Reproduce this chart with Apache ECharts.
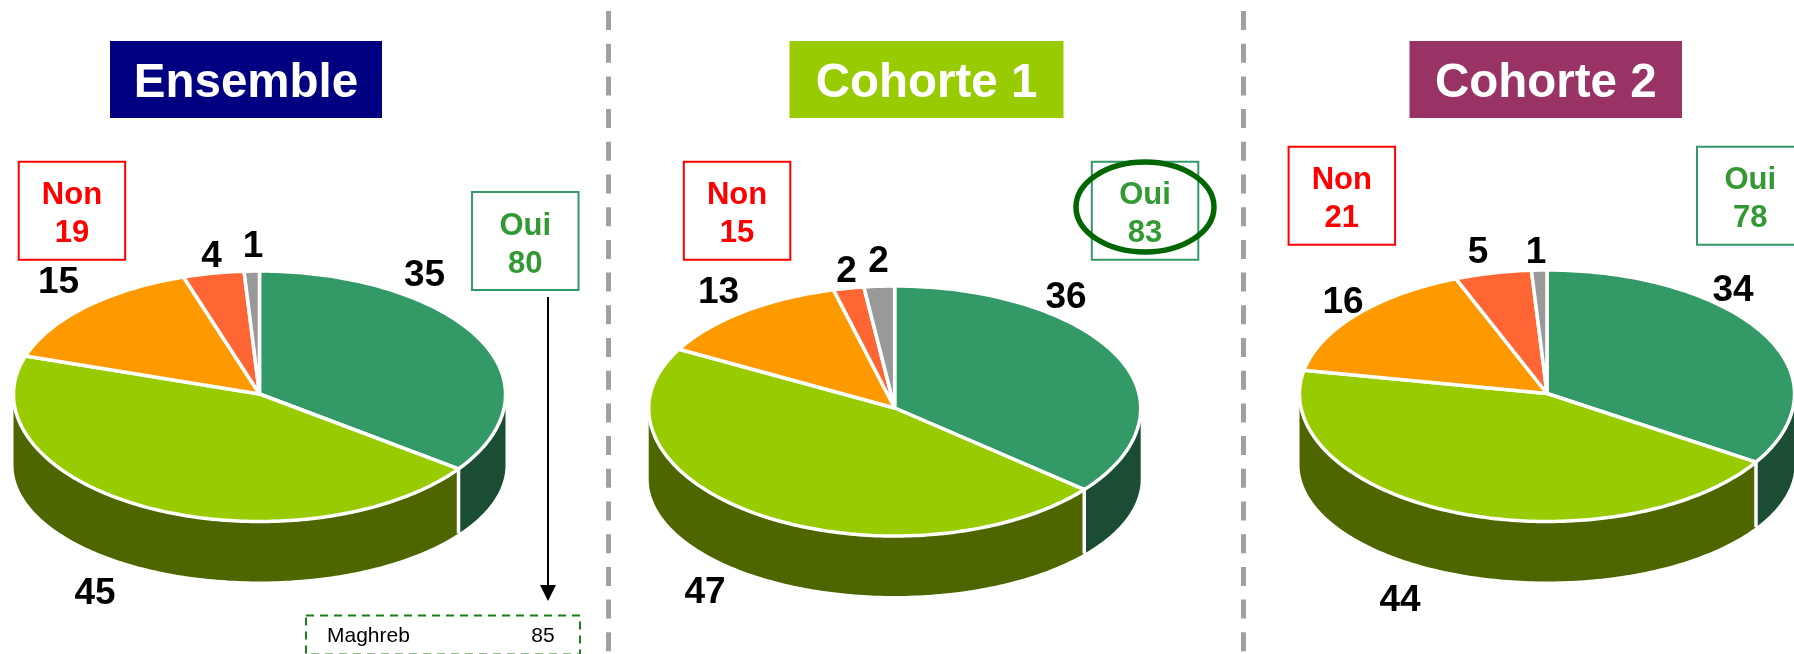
<!DOCTYPE html>
<html>
<head>
<meta charset="utf-8">
<style>html,body{margin:0;padding:0;background:#fff;overflow:hidden}#c{width:1794px;height:654px}</style>
<script src="https://cdn.jsdelivr.net/npm/echarts@6/dist/echarts.min.js"></script>
</head>
<body>
<div id="c"></div>
<script>
// ---- data ----
const categories = ['Tout à fait', 'Plutôt oui', 'Plutôt non', 'Pas du tout', 'NSP'];
const panelTitles = ['Ensemble', 'Cohorte 1', 'Cohorte 2'];
const ensembleValues = [35, 45, 15, 4, 1];
const cohorte1Values = [36, 47, 13, 2, 2];
const cohorte2Values = [34, 44, 16, 5, 1];
const nonTotals = [19, 15, 21];
const ouiTotals = [80, 83, 78];
const maghrebLabel = 'Maghreb';
const maghrebValue = 85;

// ---- appearance and layout ----
const FONT = '"Liberation Sans", Arial, sans-serif';
const topColors = ['#339966', '#99CC00', '#FF9900', '#FF6633', '#999999'];
const wallColors = ['#1A4D33', '#4D6600', '#7F4C00', '#7F3319', '#4D4D4D'];
const titleColors = ['#000080', '#99CC00', '#993366'];
const pieLayouts = [
  {cx: 259.5, cy: 394, rx: 246, ryBack: 123, ryFront: 127.5, wallDrop: 71, wallRy: 116.5,
   labels: [[424.5, 276], [95, 594], [58.5, 283], [211.6, 257], [253, 247]]},
  {cx: 894.7, cy: 408, rx: 246, ryBack: 122, ryFront: 128, wallDrop: 71, wallRy: 117,
   labels: [[1066, 298], [705, 593], [718.5, 292.5], [846.6, 272], [878.6, 261.5]]},
  {cx: 1547, cy: 393.5, rx: 247.5, ryBack: 123.5, ryFront: 128, wallDrop: 71, wallRy: 117,
   labels: [[1733, 291], [1400, 601], [1343, 303], [1478, 252.4], [1536, 252.4]]}
];
const panelLayouts = [
  {title: [110, 41, 272, 77], non: [18.7, 161.7], oui: [472, 192]},
  {title: [789.5, 41, 274, 77], non: [683.8, 161.7], oui: [1091.8, 161.7]},
  {title: [1409.5, 41, 272.5, 77], non: [1288.6, 146.7], oui: [1697, 146.7]}
];

function pointAt(p, deg) {
  const t = deg * Math.PI / 180, c = Math.cos(t);
  return [p.cx + p.rx * Math.sin(t), p.cy - c * (c > 0 ? p.ryBack : p.ryFront)];
}
function wallBottomAt(p, deg) {
  const t = deg * Math.PI / 180;
  return [p.cx + p.rx * Math.sin(t), p.cy + p.wallDrop - Math.cos(t) * p.wallRy];
}
function spans(values) {
  const total = values.reduce((a, b) => a + b, 0);
  let acc = 0;
  return values.map(v => { const s = acc; acc += v; return [s / total * 360, acc / total * 360]; });
}
function arcPoints(fn, p, a, b) {
  const n = Math.max(2, Math.ceil(Math.abs(b - a)));
  const pts = [];
  for (let i = 0; i <= n; i++) pts.push(fn(p, a + (b - a) * i / n));
  return pts;
}

function wallSeries(values, p) {
  const sp = spans(values);
  return {
    type: 'custom', coordinateSystem: 'none', silent: true, z: 2, data: values,
    name: 'wall',
    renderItem(params, api) {
      api.value(0);
      const [a0, b0] = sp[params.dataIndex];
      const a = Math.max(a0, 90), b = Math.min(b0, 270);
      if (b <= a) return {type: 'group', children: []};
      const pts = arcPoints(pointAt, p, a, b).concat(arcPoints(wallBottomAt, p, b, a));
      const children = [{type: 'polygon', shape: {points: pts},
        style: {fill: wallColors[params.dataIndex], stroke: null}}];
      if (a0 > 90 && a0 < 270) {
        const s = pointAt(p, a0), e = wallBottomAt(p, a0);
        children.push({type: 'line', shape: {x1: s[0], y1: s[1], x2: e[0], y2: e[1]},
          style: {stroke: '#fff', lineWidth: 3.5}, z2: 5});
      }
      return {type: 'group', children};
    }
  };
}
function topSeries(values, p) {
  const sp = spans(values);
  return {
    type: 'custom', coordinateSystem: 'none', silent: true, z: 3, data: values,
    name: 'top',
    renderItem(params, api) {
      const i = params.dataIndex;
      const [a, b] = sp[i];
      const pts = [[p.cx, p.cy]].concat(arcPoints(pointAt, p, a, b));
      return {type: 'group', children: [
        {type: 'polygon', shape: {points: pts},
         style: {fill: topColors[i], stroke: '#fff', lineWidth: 3.5, lineJoin: 'round'}},
        {type: 'text', z2: 10, style: {text: String(api.value(0)), x: p.labels[i][0], y: p.labels[i][1],
          fill: '#000', font: 'bold 37px ' + FONT, align: 'center', verticalAlign: 'middle'}}
      ]};
    }
  };
}

// ---- frames and titles ----
const graphic = [];
function txt(text, x, y, font, fill, align) {
  return {type: 'text', z: 20, style: {text: String(text), x, y, font, fill, align: align || 'center', verticalAlign: 'middle'}};
}
[608.5, 1243.5].forEach(x => graphic.push({type: 'line', z: 1,
  shape: {x1: x, y1: 11, x2: x, y2: 654},
  style: {stroke: '#A0A0A0', lineWidth: 5, lineDash: [19, 13.7]}}));
panelLayouts.forEach((l, i) => {
  const [tx, ty, tw, th] = l.title;
  graphic.push({type: 'rect', z: 10, shape: {x: tx, y: ty, width: tw, height: th}, style: {fill: titleColors[i]}});
  graphic.push(txt(panelTitles[i], tx + tw / 2, ty + th / 2 + 4, 'bold 47.5px ' + FONT, '#fff'));
  const w = 106.5, h = 98;
  graphic.push({type: 'rect', z: 10, shape: {x: l.non[0], y: l.non[1], width: w, height: h},
    style: {fill: 'none', stroke: '#FF0000', lineWidth: 2}});
  graphic.push(txt('Non', l.non[0] + w / 2, l.non[1] + 34, 'bold 31px ' + FONT, '#FF0000'));
  graphic.push(txt(nonTotals[i], l.non[0] + w / 2, l.non[1] + 34 + 38, 'bold 31px ' + FONT, '#FF0000'));
  graphic.push({type: 'rect', z: 10, shape: {x: l.oui[0], y: l.oui[1], width: w, height: h},
    style: {fill: 'none', stroke: '#339966', lineWidth: 2}});
  graphic.push(txt('Oui', l.oui[0] + w / 2, l.oui[1] + 34, 'bold 31px ' + FONT, '#339933'));
  graphic.push(txt(ouiTotals[i], l.oui[0] + w / 2, l.oui[1] + 34 + 38, 'bold 31px ' + FONT, '#339933'));
});
graphic.push({type: 'ellipse', z: 15, shape: {cx: 1145, cy: 207, rx: 69, ry: 45},
  style: {fill: 'none', stroke: '#006600', lineWidth: 5.5}});
graphic.push({type: 'line', z: 10, shape: {x1: 548, y1: 297, x2: 548, y2: 590}, style: {stroke: '#000', lineWidth: 2}});
graphic.push({type: 'polygon', z: 10, shape: {points: [[540, 585], [556, 585], [548, 601]]}, style: {fill: '#000'}});
graphic.push({type: 'rect', z: 10, shape: {x: 306, y: 615.5, width: 274, height: 39},
  style: {fill: 'none', stroke: '#1A7F1A', lineWidth: 2, lineDash: [8, 6]}});
graphic.push(txt(maghrebLabel, 327, 636, '21px ' + FONT, '#000', 'left'));
graphic.push(txt(maghrebValue, 543, 636, '21px ' + FONT, '#000'));

const allValues = [ensembleValues, cohorte1Values, cohorte2Values];
const series = [];
allValues.forEach((vals, i) => {
  series.push(wallSeries(vals, pieLayouts[i]));
  series.push(topSeries(vals, pieLayouts[i]));
});

const chart = echarts.init(document.getElementById('c'), null, {renderer: 'canvas', width: 1794, height: 654});
chart.setOption({animation: false, backgroundColor: '#fff', graphic: {elements: graphic}, series});
</script>
</body>
</html>
